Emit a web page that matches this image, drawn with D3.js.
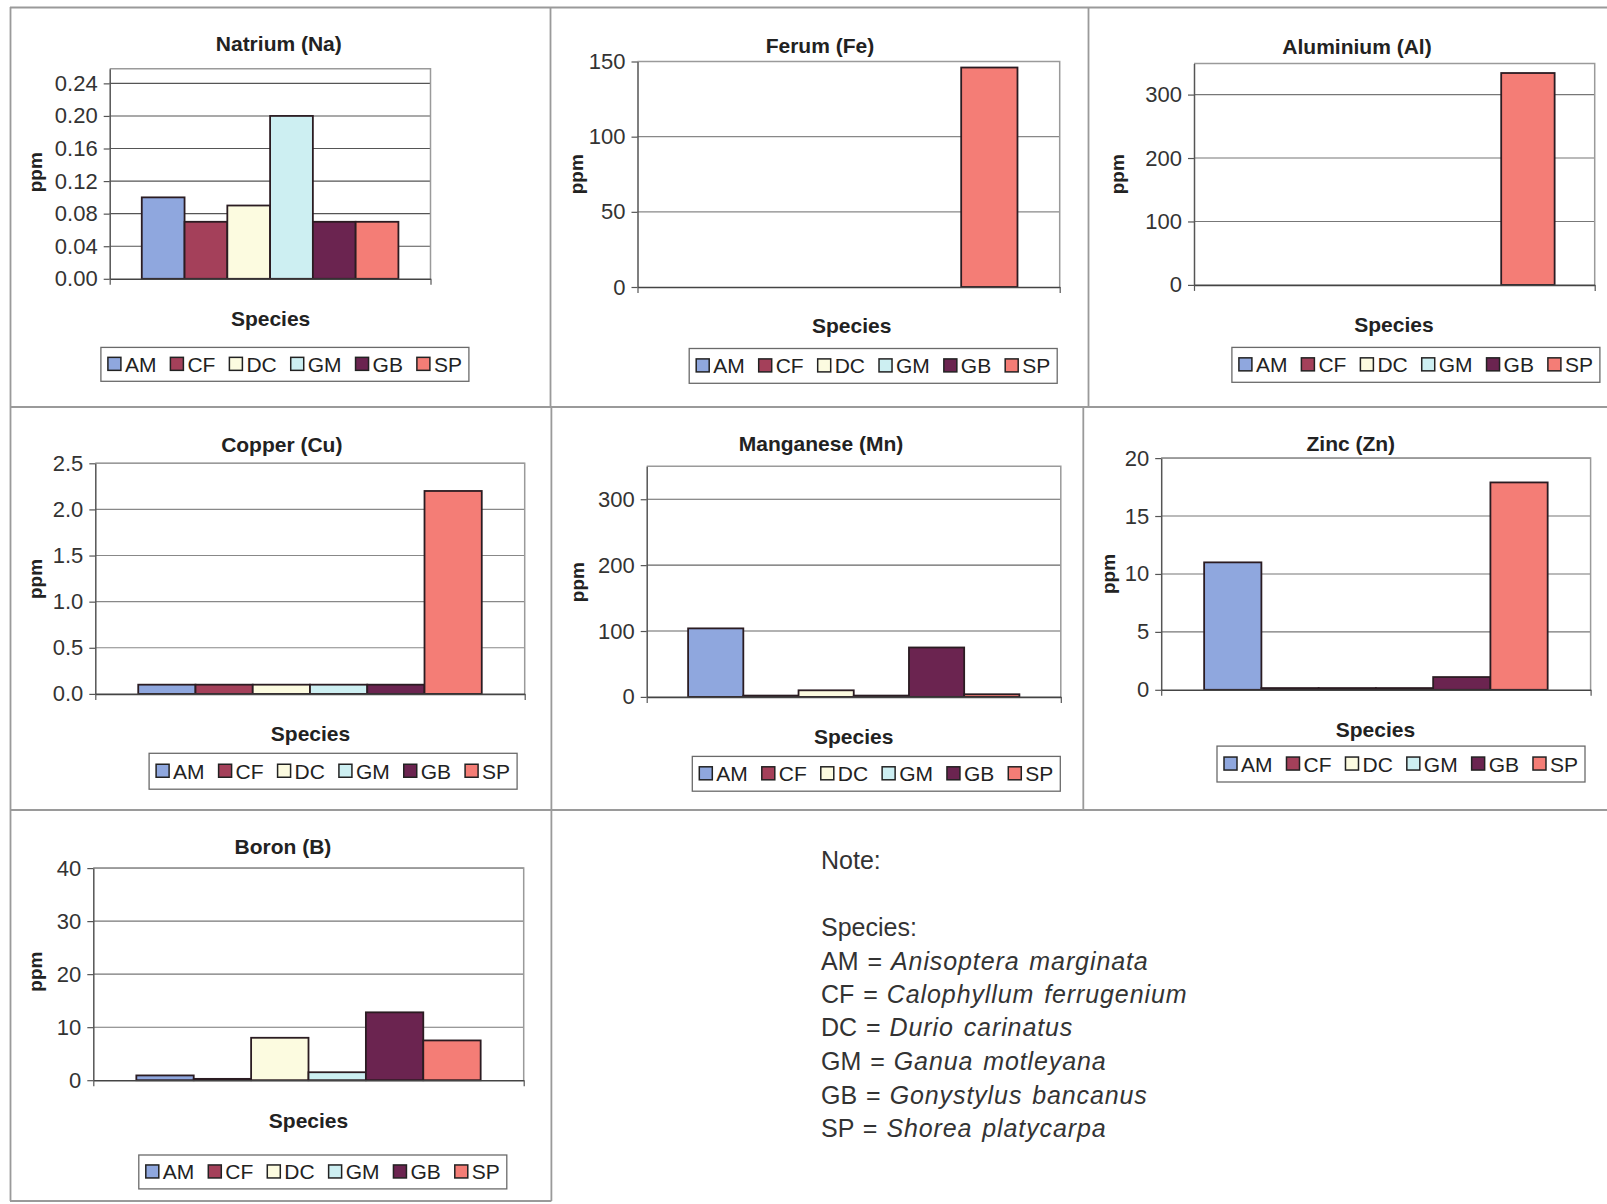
<!DOCTYPE html>
<html>
<head>
<meta charset="utf-8">
<script src="https://cdn.jsdelivr.net/npm/d3@7"></script>
<style>
  body { margin: 0; background: #fff; }
  svg { display: block; font-family: "Liberation Sans", Arial, sans-serif; }
</style>
</head>
<body>
<svg id="chart" width="1607" height="1204"></svg>
<script>
// ---- data ----
const species = ["AM", "CF", "DC", "GM", "GB", "SP"];
const speciesNames = ["Anisoptera marginata", "Calophyllum ferrugenium", "Durio carinatus",
                      "Ganua motleyana", "Gonystylus bancanus", "Shorea platycarpa"];

const natrium   = [0.10, 0.07, 0.09, 0.20, 0.07, 0.07];
const ferum     = [0, 0, 0, 0, 0, 146];
const aluminium = [0, 0, 0, 0, 0, 334];
const copper    = [0.1, 0.1, 0.1, 0.1, 0.1, 2.2];
const manganese = [104, 2, 10, 2, 75, 4];
const zinc      = [11, 0.15, 0.15, 0.15, 1.1, 17.9];
const boron     = [0.9, 0.25, 8.0, 1.5, 12.8, 7.5];

const natriumTicks   = [0, 0.04, 0.08, 0.12, 0.16, 0.20, 0.24];
const ferumTicks     = [0, 50, 100, 150];
const aluminiumTicks = [0, 100, 200, 300];
const copperTicks    = [0, 0.5, 1.0, 1.5, 2.0, 2.5];
const manganeseTicks = [0, 100, 200, 300];
const zincTicks      = [0, 5, 10, 15, 20];
const boronTicks     = [0, 10, 20, 30, 40];

// ---- styling ----
const seriesColors = ["#8fa7de", "#a4405a", "#fcfbe0", "#cdeff2", "#6b2450", "#f47d76"];
const textColor = "#222";

// ---- panel layout ----
const panels = [
  { title: "Natrium (Na)", values: natrium, ticks: natriumTicks, fmt: ".2f", yMax: 0.258,
    left: 109.7, right: 430.5, top: 68.7, zero: 278.8, grid: "#555",
    titleX: 278.8, titleY: 43, spX: 270.6, spY: 318.7, ppmX: 38.9, ppmY: 172.2,
    lgX: 284.9, lgTop: 347.4, lgBottom: 381.3 },
  { title: "Ferum (Fe)", values: ferum, ticks: ferumTicks, fmt: "d", yMax: 150,
    left: 637.5, right: 1059.7, top: 61.5, zero: 287, grid: "#888",
    titleX: 819.9, titleY: 45.1, spX: 851.7, spY: 325.9, ppmX: 580, ppmY: 174.2,
    lgX: 873.2, lgTop: 348.5, lgBottom: 383.3 },
  { title: "Aluminium (Al)", values: aluminium, ticks: aluminiumTicks, fmt: "d", yMax: 349,
    left: 1194, right: 1594.7, top: 63.5, zero: 284.9, grid: "#777",
    titleX: 1357, titleY: 46.1, spX: 1393.9, spY: 324.9, ppmX: 1121.2, ppmY: 174.2,
    lgX: 1415.9, lgTop: 347.4, lgBottom: 382.3 },
  { title: "Copper (Cu)", values: copper, ticks: copperTicks, fmt: ".1f", yMax: 2.5,
    left: 95.3, right: 524.7, top: 463.3, zero: 693.9, grid: "#888",
    titleX: 281.8, titleY: 444.8, spX: 310.5, spY: 733.8, ppmX: 38.9, ppmY: 579,
    lgX: 333.1, lgTop: 753.3, lgBottom: 789.2 },
  { title: "Manganese (Mn)", values: manganese, ticks: manganeseTicks, fmt: "d", yMax: 350,
    left: 646.7, right: 1060.8, top: 466.3, zero: 696.9, grid: "#666",
    titleX: 821, titleY: 443.8, spX: 853.7, spY: 736.9, ppmX: 581.1, ppmY: 582.1,
    lgX: 876.3, lgTop: 756.4, lgBottom: 791.2 },
  { title: "Zinc (Zn)", values: zinc, ticks: zincTicks, fmt: "d", yMax: 20,
    left: 1161.2, right: 1590.6, top: 458.1, zero: 689.8, grid: "#777",
    titleX: 1350.8, titleY: 443.8, spX: 1375.4, spY: 729.7, ppmX: 1112, ppmY: 574,
    lgX: 1401, lgTop: 746.1, lgBottom: 782 },
  { title: "Boron (B)", values: boron, ticks: boronTicks, fmt: "d", yMax: 40,
    left: 93.3, right: 523.7, top: 868.1, zero: 1080.2, grid: "#777",
    titleX: 282.9, titleY: 846.6, spX: 308.5, spY: 1120.2, ppmX: 38.9, ppmY: 971.6,
    lgX: 322.8, lgTop: 1155, lgBottom: 1188.9 }
];

const svg = d3.select("#chart");

// ---- table frame around the charts ----
const frame = svg.append("g").attr("stroke", "#9a9a9a").attr("stroke-width", 1.8).attr("fill", "none");
[
  [10, 7.5, 1607, 7.5], [10.5, 7, 10.5, 1201],
  [550.5, 7, 550.5, 407], [1088.5, 7, 1088.5, 407],
  [10, 407, 1607, 407],
  [551.4, 407, 551.4, 810], [1083.3, 407, 1083.3, 810],
  [10, 810, 1607, 810],
  [551.4, 810, 551.4, 1201], [10, 1201, 551.4, 1201]
].forEach(([x1, y1, x2, y2]) =>
  frame.append("line").attr("x1", x1).attr("y1", y1).attr("x2", x2).attr("y2", y2));

// ---- one bar chart per element ----
function drawPanel(p) {
  const g = svg.append("g");
  const w = p.right - p.left;
  const x = d3.scaleBand().domain(species).range([p.left + w * 0.1, p.right - w * 0.1]).padding(0);
  const y = d3.scaleLinear().domain([0, p.yMax]).range([p.zero, p.top]);

  // horizontal gridlines
  g.append("g").selectAll("line").data(p.ticks.filter(t => t > 0)).join("line")
    .attr("x1", p.left).attr("x2", p.right)
    .attr("y1", d => y(d)).attr("y2", d => y(d))
    .attr("stroke", p.grid).attr("stroke-width", 1.1);

  // plot area border (top and right)
  g.append("path")
    .attr("d", `M${p.left},${p.top}H${p.right}V${p.zero}`)
    .attr("fill", "none").attr("stroke", "#9a9a9a").attr("stroke-width", 1.5);

  // bars
  g.append("g").selectAll("rect").data(p.values).join("rect")
    .attr("x", (d, i) => x(species[i]))
    .attr("width", x.bandwidth())
    .attr("y", d => y(d))
    .attr("height", d => p.zero - y(d))
    .attr("fill", (d, i) => seriesColors[i])
    .attr("stroke", "#2b1c22").attr("stroke-width", 1.8);

  // y axis
  const yAxis = d3.axisLeft(y).tickValues(p.ticks).tickFormat(d3.format(p.fmt))
    .tickSize(6).tickSizeOuter(0).tickPadding(6);
  const ya = g.append("g").attr("transform", `translate(${p.left},0)`).call(yAxis);
  ya.attr("font-size", 22).attr("font-family", null);
  ya.select(".domain").attr("stroke", "#555").attr("stroke-width", 1.5);
  ya.selectAll(".tick line").attr("stroke", "#555").attr("stroke-width", 1.2);
  ya.selectAll(".tick text").attr("fill", "#333");

  // x axis: one category spanning the plot, ticks at both ends
  const xs = d3.scaleLinear().domain([0, 1]).range([p.left, p.right]);
  const xa = g.append("g").attr("transform", `translate(0,${p.zero})`)
    .call(d3.axisBottom(xs).tickValues([0, 1]).tickFormat("").tickSize(6).tickSizeOuter(0));
  xa.select(".domain").attr("stroke", "#444").attr("stroke-width", 1.6);
  xa.selectAll(".tick line").attr("stroke", "#555").attr("stroke-width", 1.2);

  // titles
  g.append("text").attr("x", p.titleX).attr("y", p.titleY + 7.5)
    .attr("text-anchor", "middle").attr("font-size", 21).attr("font-weight", "bold")
    .attr("fill", textColor).text(p.title);
  g.append("text").attr("x", p.spX).attr("y", p.spY + 7.5)
    .attr("text-anchor", "middle").attr("font-size", 21).attr("font-weight", "bold")
    .attr("fill", textColor).text("Species");
  g.append("text").attr("transform", `translate(${p.ppmX + 3},${p.ppmY}) rotate(-90)`)
    .attr("text-anchor", "middle").attr("font-size", 19).attr("font-weight", "bold")
    .attr("fill", textColor).text("ppm");

  drawLegend(g, p.lgX, p.lgTop, p.lgBottom);
}

function drawLegend(g, cx, top, bottom) {
  const W = 368, h = bottom - top, pad = 7, sw = 13, gap = 4;
  const lg = g.append("g");
  lg.append("rect")
    .attr("x", cx - W / 2).attr("y", top).attr("width", W).attr("height", h)
    .attr("fill", "#fff").attr("stroke", "#6a6a6a").attr("stroke-width", 1.3);
  const labels = lg.selectAll("text").data(species).join("text")
    .attr("font-size", 21).attr("fill", textColor).text(d => d);
  const widths = labels.nodes().map(n => n.getComputedTextLength());
  const total = d3.sum(widths) + species.length * (sw + gap);
  const spacing = (W - 2 * pad - total) / (species.length - 1);
  const midY = top + h / 2;
  let cur = cx - W / 2 + pad;
  species.forEach((s, i) => {
    lg.append("rect").attr("x", cur).attr("y", midY - sw / 2 - 0.5)
      .attr("width", sw).attr("height", sw)
      .attr("fill", seriesColors[i]).attr("stroke", "#222").attr("stroke-width", 1.5);
    d3.select(labels.nodes()[i]).attr("x", cur + sw + gap).attr("y", midY + 7.5);
    cur += sw + gap + widths[i] + spacing;
  });
}

panels.forEach(drawPanel);

// ---- species key ----
const note = svg.append("g").attr("font-size", 25).attr("fill", "#333");
note.append("text").attr("x", 821).attr("y", 869).text("Note:");
note.append("text").attr("x", 821).attr("y", 936).text("Species:");
const keyBaselines = [969.6, 1003, 1036, 1070, 1104, 1137];
species.forEach((s, i) => {
  const t = note.append("text").attr("x", 821).attr("y", keyBaselines[i]).attr("word-spacing", 2);
  t.append("tspan").text(s + " = ");
  t.append("tspan").attr("font-style", "italic").attr("letter-spacing", 0.9).text(speciesNames[i]);
});
</script>
</body>
</html>
